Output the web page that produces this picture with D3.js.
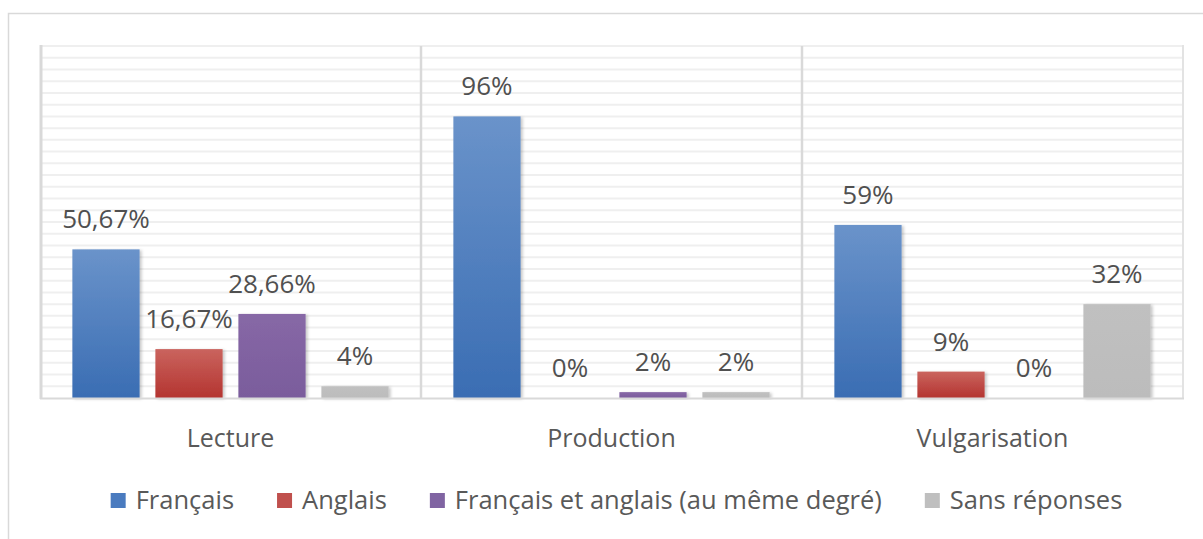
<!DOCTYPE html>
<html><head><meta charset="utf-8">
<script src="https://cdn.jsdelivr.net/npm/d3@7"></script>
<style>body{margin:0;background:#fff;}svg{display:block;font-family:"Open Sans",sans-serif;}</style>
</head><body>
<svg id="c" width="1203" height="539"></svg>
<script>
const categories = ["Lecture", "Production", "Vulgarisation"];
const seriesNames = ["Français", "Anglais", "Français et anglais (au même degré)", "Sans réponses"];
const francais = [50.67, 96, 59];
const anglais = [16.67, 0, 9];
const lesDeux = [28.66, 2, 0];
const sansReponses = [4, 2, 32];
const seriesValues = [francais, anglais, lesDeux, sansReponses];
const colorsTop = ["#6a93ca", "#ca645e", "#8768a6", "#c0c0c0"];
const colorsBottom = ["#3a6db3", "#b43430", "#7a5c9c", "#bcbcbc"];
const legendColors = ["#4a7bbf", "#c0504d", "#8064a2", "#bfbfbf"];

const svg = d3.select("#c");
const W = 1203, H = 539;
const L = 40, R = 1183, T = 46, B = 398;

const defs = svg.append("defs");
seriesNames.forEach((s, i) => {
  const g = defs.append("linearGradient").attr("id", "g" + i).attr("x1", 0).attr("y1", 0).attr("x2", 0).attr("y2", 1);
  g.append("stop").attr("offset", "0%").attr("stop-color", colorsTop[i]);
  g.append("stop").attr("offset", "100%").attr("stop-color", colorsBottom[i]);
});
const f = defs.append("filter").attr("id", "sh").attr("x", "-20%").attr("y", "-20%").attr("width", "150%").attr("height", "150%");
f.append("feDropShadow").attr("dx", 2).attr("dy", 1).attr("stdDeviation", 1.8).attr("flood-color", "#000").attr("flood-opacity", 0.22);

// outer frame
svg.append("path").attr("d", `M8.5,${H} L8.5,13.5 L${W},13.5`).attr("fill", "none").attr("stroke", "#d9d9d9").attr("stroke-width", 1.5);

const y = d3.scaleLinear().domain([0, 120]).range([B, T]);
const x0 = d3.scaleBand().domain(categories).range([L, R]).padding(0);
const x1 = d3.scaleBand().domain(seriesNames).range([0, x0.bandwidth()]).paddingInner(0.19).paddingOuter(0.39);

// gridlines
svg.append("g").selectAll("line").data(d3.range(4, 121, 4)).join("line")
  .attr("x1", L).attr("x2", R).attr("y1", d => y(d)).attr("y2", d => y(d))
  .attr("stroke", "#efefef").attr("stroke-width", 2);

// vertical separators
svg.append("g").selectAll("line").data(categories.slice(1)).join("line")
  .attr("x1", d => x0(d)).attr("x2", d => x0(d)).attr("y1", T).attr("y2", B)
  .attr("stroke", "#d9d9d9").attr("stroke-width", 2.5);

// plot borders
svg.append("line").attr("x1", L + 1).attr("x2", L + 1).attr("y1", T - 1).attr("y2", B + 1).attr("stroke", "#d9d9d9").attr("stroke-width", 3);
svg.append("line").attr("x1", R).attr("x2", R).attr("y1", T - 1).attr("y2", B + 1).attr("stroke", "#e3e3e3").attr("stroke-width", 2);

// bars
const groups = svg.append("g").selectAll("g").data(categories).join("g")
  .attr("transform", d => `translate(${x0(d)},0)`);
const rows = (c, ci) => seriesNames.map((s, si) => ({ s, si, v: seriesValues[si][ci] }));
groups.selectAll("rect").data((c, ci) => rows(c, ci)).join("rect")
  .attr("x", d => x1(d.s)).attr("width", x1.bandwidth())
  .attr("y", d => y(d.v)).attr("height", d => B - y(d.v))
  .attr("fill", d => `url(#g${d.si})`)
  .attr("filter", "url(#sh)");

// axis baseline
svg.append("line").attr("x1", L).attr("x2", R + 1).attr("y1", B + 0.5).attr("y2", B + 0.5).attr("stroke", "#d9d9d9").attr("stroke-width", 2);

// value labels
const fmt = v => String(v).replace(".", ",") + "%";
groups.selectAll("text.v").data((c, ci) => rows(c, ci)).join("text").attr("class", "v")
  .attr("x", d => x1(d.s) + x1.bandwidth() / 2).attr("y", d => y(d.v) - 21)
  .attr("text-anchor", "middle").attr("font-size", 26).attr("fill", "#505050")
  .text(d => fmt(d.v));

// category labels
svg.append("g").selectAll("text").data(categories).join("text")
  .attr("x", d => x0(d) + x0.bandwidth() / 2).attr("y", 447)
  .attr("text-anchor", "middle").attr("font-size", 25).attr("fill", "#595959")
  .text(d => d);

// legend
const lg = svg.append("g");
const items = lg.selectAll("g").data(seriesNames).join("g");
items.append("rect").attr("width", 15).attr("height", 15).attr("y", 493)
  .attr("fill", (d, i) => legendColors[i]);
items.append("text").attr("x", 25).attr("y", 509).attr("font-size", 25.5).attr("fill", "#595959").text(d => d);
let widths = [];
items.each(function () { widths.push(this.getBBox().width); });
const gap = 43;
const total = d3.sum(widths) + gap * (widths.length - 1);
let cx = 616.5 - total / 2;
items.each(function (d, i) { d3.select(this).attr("transform", `translate(${cx},0)`); cx += widths[i] + gap; });
</script>
</body></html>
